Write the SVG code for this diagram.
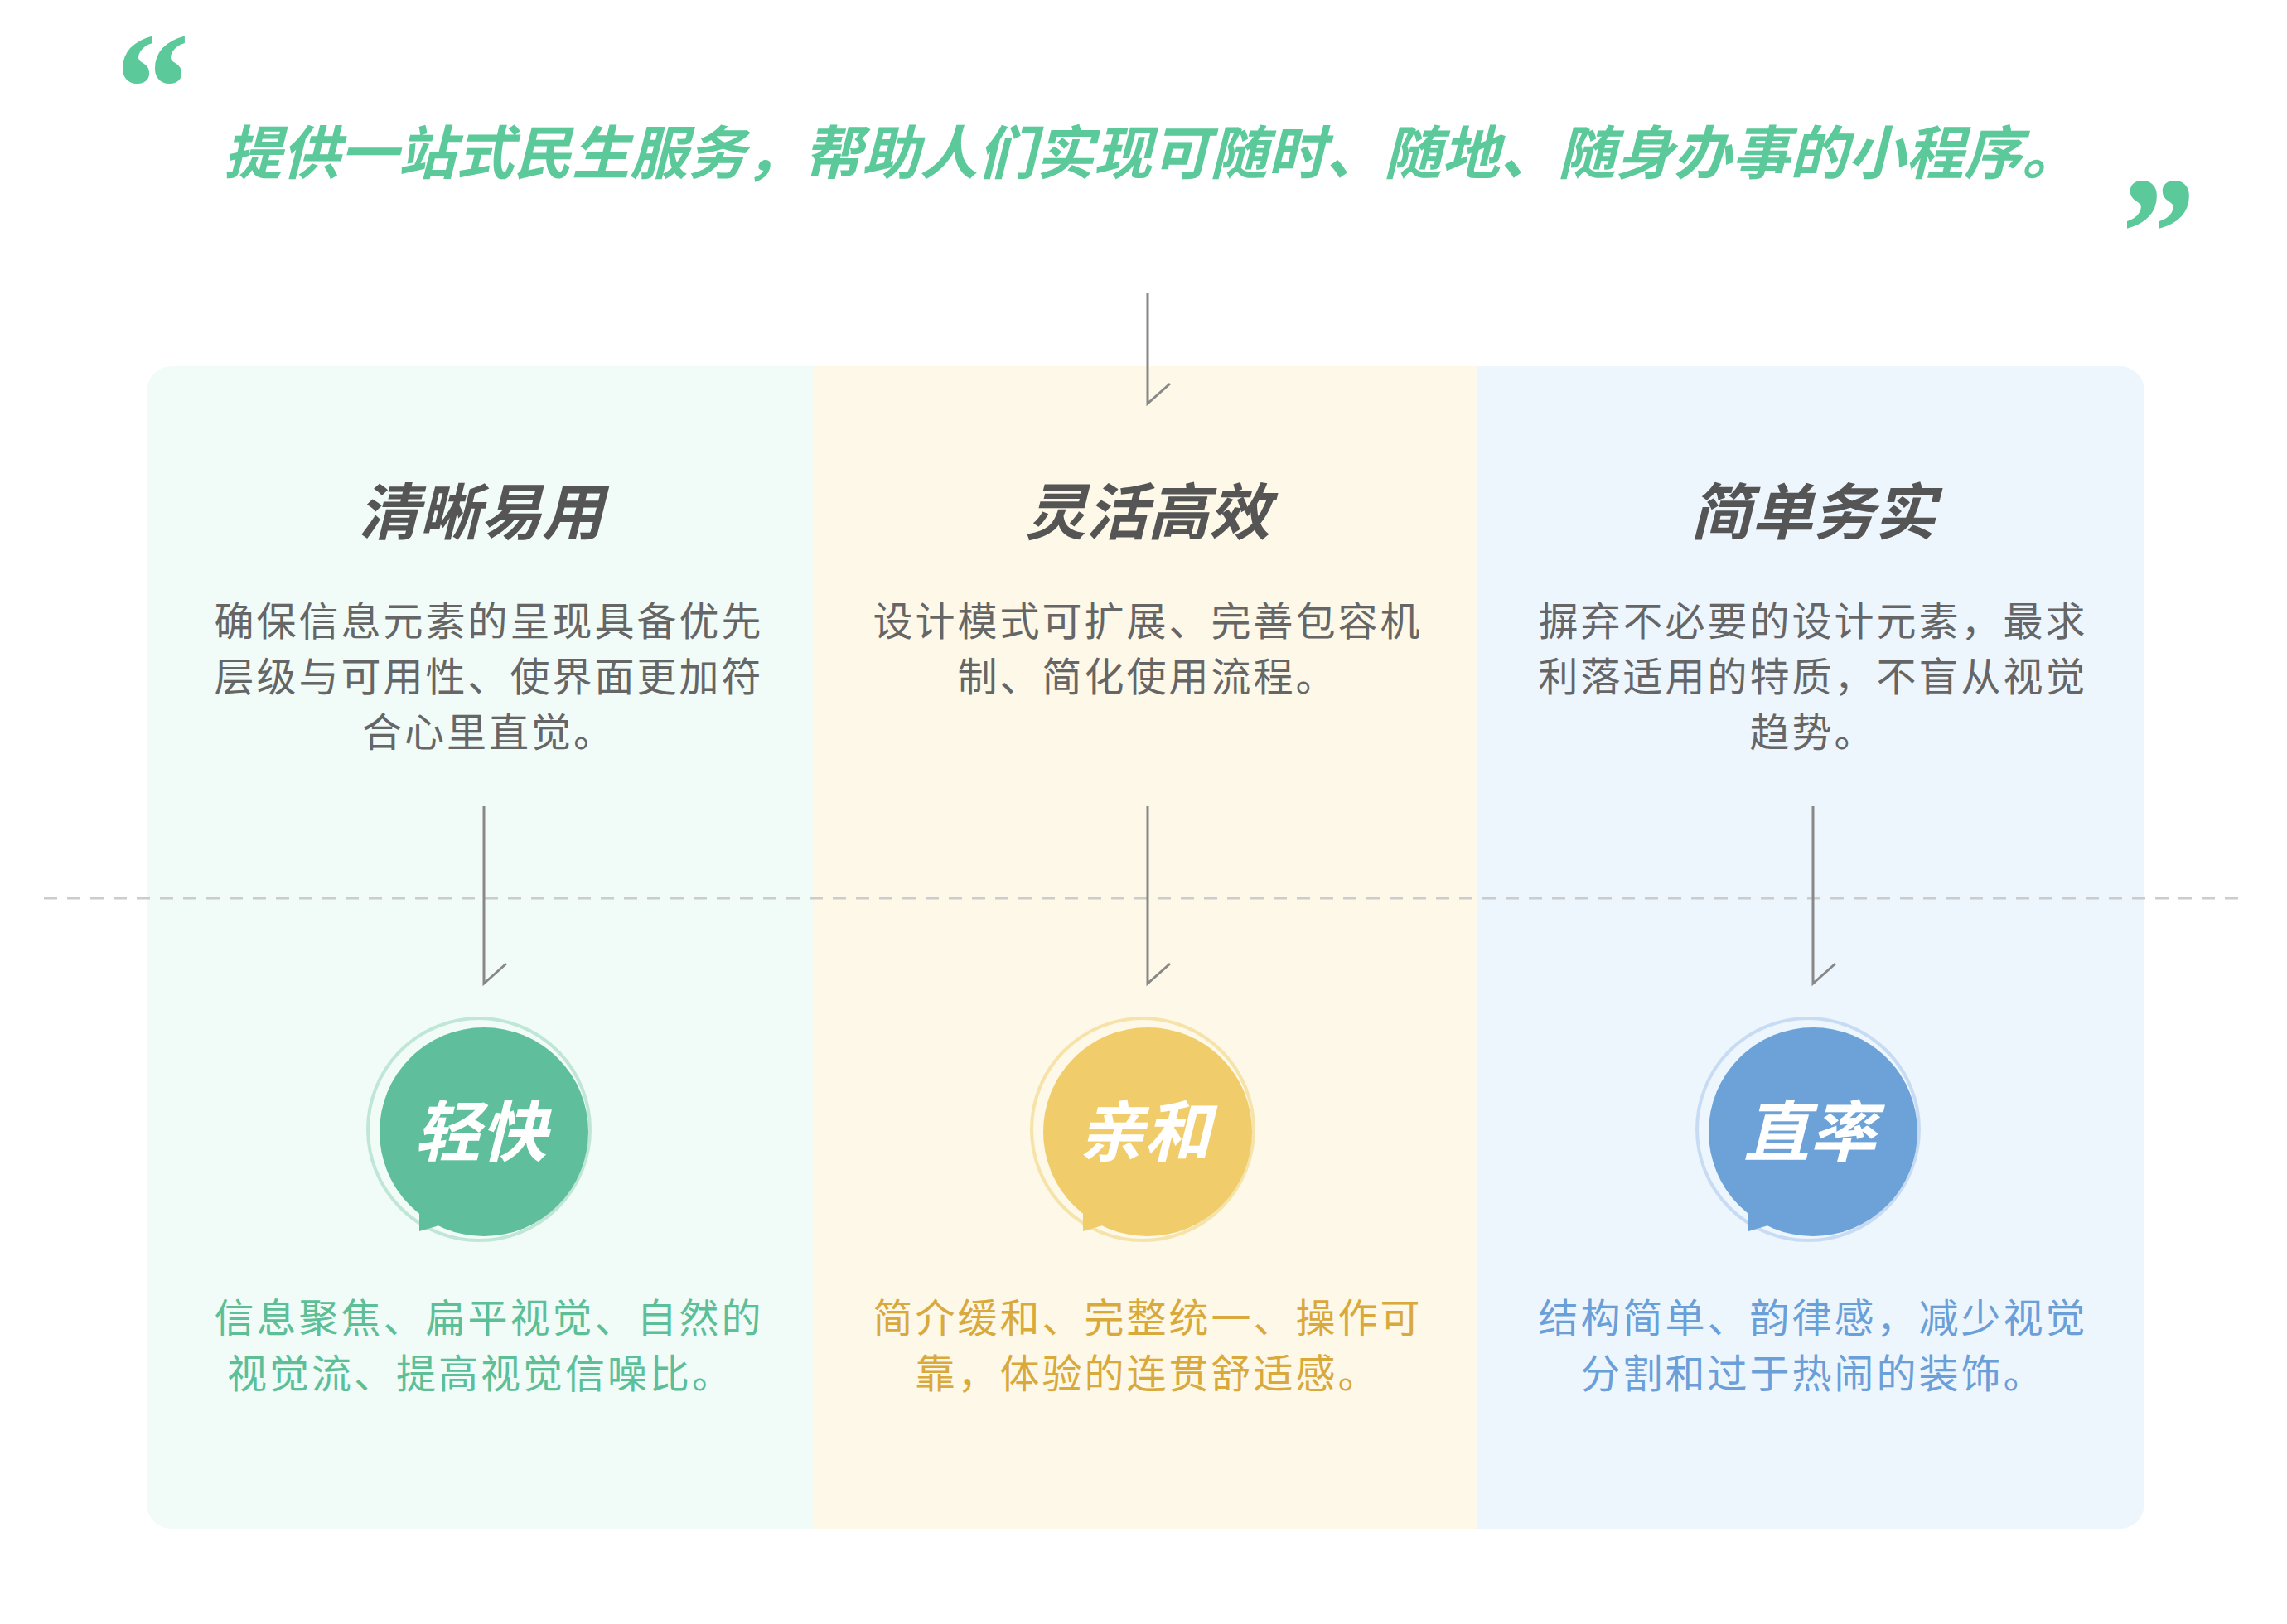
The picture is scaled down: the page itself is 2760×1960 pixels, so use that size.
<svg xmlns="http://www.w3.org/2000/svg" width="2760" height="1960" viewBox="0 0 2760 1960">
<style>
.t{font-family:"Noto Sans CJK SC","Noto Sans",sans-serif;text-anchor:middle}
.h{font-size:74px;font-weight:700;font-style:italic;fill:#555;font-family:"Noto Sans CJK SC",sans-serif;text-anchor:middle}
.d{font-size:48px;fill:#666;letter-spacing:3px}
.c{font-size:80px;font-weight:700;font-style:italic;fill:#fff}
.ln{stroke:#888;stroke-width:3;fill:none}
</style>
<rect width="2760" height="1960" fill="#fff"/>
<g id="slogan">
<text x="130" y="170" font-family="Liberation Serif,serif" font-size="190" font-weight="700" font-style="italic" fill="#5cc99a">“</text>
<text x="1390" y="210" class="t" font-size="70" font-weight="700" font-style="italic" fill="#5cc99a">提供一站式民生服务，帮助人们实现可随时、随地、随身办事的小程序。</text>
<text x="2550" y="345" font-family="Liberation Serif,serif" font-size="190" font-weight="700" font-style="italic" fill="#5cc99a">”</text>
</g>
<g id="panels">
<path d="M207 442H982V1845H207A30 30 0 0 1 177 1815V472A30 30 0 0 1 207 442Z" fill="#f1fbf7"/>
<rect x="982" y="442" width="801" height="1403" fill="#fdf8e7"/>
<path d="M1783 442H2558A30 30 0 0 1 2588 472V1815A30 30 0 0 1 2558 1845H1783Z" fill="#edf5fd"/>
</g>
<line x1="53" y1="1084" x2="2712" y2="1084" stroke="#ccc" stroke-width="3" stroke-dasharray="16 12"/>
<g id="connectors">
<path class="ln" d="M1385 354V487L1412 463"/>
<path class="ln" d="M584 973V1187L611 1163"/>
<path class="ln" d="M1385 973V1187L1412 1163"/>
<path class="ln" d="M2188 973V1187L2215 1163"/>
</g>
<g id="col1">
<text x="580" y="645" class="h">清晰易用</text>
<text x="590" y="767" class="t d">确保信息元素的呈现具备优先</text>
<text x="590" y="834" class="t d">层级与可用性、使界面更加符</text>
<text x="590" y="901" class="t d">合心里直觉。</text>
</g>
<g id="col2">
<text x="1385" y="645" class="h">灵活高效</text>
<text x="1385" y="767" class="t d">设计模式可扩展、完善包容机</text>
<text x="1385" y="834" class="t d">制、简化使用流程。</text>
</g>
<g id="col3">
<text x="2188" y="645" class="h">简单务实</text>
<text x="2188" y="767" class="t d">摒弃不必要的设计元素，最求</text>
<text x="2188" y="834" class="t d">利落适用的特质，不盲从视觉</text>
<text x="2188" y="901" class="t d">趋势。</text>
</g>
<g id="node-qingkuai">
<circle cx="578" cy="1363" r="134" fill="none" stroke="#bfe6d6" stroke-width="4"/>
<circle cx="584" cy="1366" r="126" fill="#5fbf9c"/>
<path d="M506 1440V1486L540 1476Z" fill="#5fbf9c"/>
<text x="580" y="1395" class="t c">轻快</text>
</g>
<g id="node-qinhe">
<circle cx="1379" cy="1363" r="134" fill="none" stroke="#f6e3a9" stroke-width="4"/>
<circle cx="1385" cy="1366" r="126" fill="#f0cc6b"/>
<path d="M1307 1440V1486L1341 1476Z" fill="#f0cc6b"/>
<text x="1381" y="1395" class="t c">亲和</text>
</g>
<g id="node-zhishuai">
<circle cx="2182" cy="1363" r="134" fill="none" stroke="#c7dcf3" stroke-width="4"/>
<circle cx="2188" cy="1366" r="126" fill="#6ca2d8"/>
<path d="M2110 1440V1486L2144 1476Z" fill="#6ca2d8"/>
<text x="2184" y="1395" class="t c">直率</text>
</g>
<g id="bottom">
<text x="590" y="1608" class="t d" fill="#5cbf97" style="fill:#5cbf97">信息聚焦、扁平视觉、自然的</text>
<text x="580" y="1675" class="t d" style="fill:#5cbf97">视觉流、提高视觉信噪比。</text>
<text x="1385" y="1608" class="t d" style="fill:#d9a93b">简介缓和、完整统一、操作可</text>
<text x="1385" y="1675" class="t d" style="fill:#d9a93b">靠，体验的连贯舒适感。</text>
<text x="2188" y="1608" class="t d" style="fill:#6a9fd8">结构简单、韵律感，减少视觉</text>
<text x="2188" y="1675" class="t d" style="fill:#6a9fd8">分割和过于热闹的装饰。</text>
</g>
</svg>
